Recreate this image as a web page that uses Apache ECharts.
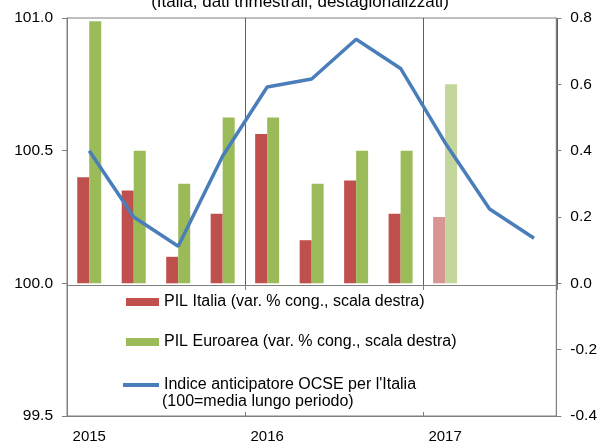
<!DOCTYPE html>
<html>
<head>
<meta charset="utf-8">
<script src="https://cdn.jsdelivr.net/npm/echarts@6/dist/echarts.min.js"></script>
<style>
  html, body { margin: 0; padding: 0; background: #fff; }
  #chart { width: 600px; height: 444px; }
</style>
</head>
<body>
<div id="chart"></div>
<script>
// trimestri 2015Q1 - 2017Q3
var quarters = ['2015', '', '', '', '2016', '', '', '', '2017', '', ''];
var pilItalia = [0.32, 0.28, 0.08, 0.21, 0.45, 0.13, 0.31, 0.21, 0.20, null, null];
var pilEuroarea = [0.79, 0.40, 0.30, 0.50, 0.50, 0.30, 0.40, 0.40, 0.60, null, null];
var indiceOcse = [100.50, 100.25, 100.14, 100.48, 100.74, 100.77, 100.92, 100.81, 100.53, 100.28, 100.17];
var leftTicks = [99.5, 101.0, 0.5];
var rightTicks = [-0.4, 0.8, 0.2];

var FONT = '"Liberation Sans", Arial, sans-serif';
var RED = '#C0504D', RED_LIGHT = '#D99594';
var GREEN = '#9BBB59', GREEN_LIGHT = '#C3D69B';
var BLUE = '#4A7EBB';

// l'ultimo dato osservato (2017Q1) in colore chiaro
function lastLight(arr, light) {
    return arr.map(function (v, i) {
        if (i === 8) {
            return { value: v, itemStyle: { color: light } };
        }
        return v;
    });
}

function yearTicks(index) {
    return index === 4 || index === 8;
}

var legendText = { fontFamily: FONT, fontSize: 16, lineHeight: 18, color: '#000' };

var chart = echarts.init(document.getElementById('chart'));
chart.setOption({
    animation: false,
    title: {
        text: '(Italia, dati trimestrali, destagionalizzati)',
        left: 'center',
        top: -11,
        textStyle: { fontFamily: FONT, fontSize: 17, fontWeight: 'normal', color: '#000' }
    },
    grid: [
        { left: 67, right: 43, top: 18, bottom: 27, show: true, borderColor: '#7f7f7f', borderWidth: 1 },
        { left: 67, right: 43, top: 18, bottom: 159 }
    ],
    legend: [{
        orient: 'vertical',
        left: 121,
        top: 288,
        itemWidth: 33,
        itemHeight: 8,
        itemGap: 22,
        itemStyle: { borderWidth: 0 },
        data: [
            { name: 'PIL Italia (var. % cong., scala destra)', icon: 'rect' },
            { name: 'PIL Euroarea (var. % cong., scala destra)', icon: 'rect' }
        ],
        textStyle: legendText
    }, {
        orient: 'vertical',
        left: 118,
        top: 371,
        itemWidth: 36,
        itemHeight: 8,
        data: [
            { name: "Indice anticipatore OCSE per l'Italia", icon: 'path://M0,0 L36,0 L36,4 L0,4 Z' }
        ],
        textStyle: legendText
    }],
    graphic: [{
        type: 'text',
        left: 162,
        top: 394,
        style: { text: '(100=media lungo periodo)', fontFamily: FONT, fontSize: 16, fill: '#000' }
    }],
    xAxis: [{
        type: 'category',
        gridIndex: 0,
        data: quarters,
        boundaryGap: true,
        axisLine: { onZero: false, lineStyle: { color: '#7f7f7f' } },
        axisTick: { show: true, inside: true, length: 4, interval: yearTicks, lineStyle: { color: '#7f7f7f' } },
        axisLabel: { interval: 0, margin: 13, fontFamily: FONT, fontSize: 15, color: '#000' }
    }, {
        type: 'category',
        gridIndex: 1,
        data: quarters,
        boundaryGap: true,
        axisLine: { onZero: false, lineStyle: { color: '#7f7f7f' } },
        axisTick: { show: true, length: 5, interval: yearTicks, lineStyle: { color: '#7f7f7f' } },
        axisLabel: { show: false },
        splitLine: { show: true, interval: yearTicks, lineStyle: { color: '#5f5f5f', width: 1 } }
    }],
    yAxis: [{
        type: 'value',
        gridIndex: 0,
        position: 'left',
        min: leftTicks[0],
        max: leftTicks[1],
        interval: leftTicks[2],
        axisLine: { show: true, lineStyle: { color: '#7f7f7f' } },
        axisTick: { show: true, length: 5, lineStyle: { color: '#7f7f7f' } },
        axisLabel: { margin: 14, fontFamily: FONT, fontSize: 15.5, color: '#000', formatter: function (v) { return v.toFixed(1); } },
        splitLine: { show: false }
    }, {
        type: 'value',
        gridIndex: 0,
        position: 'right',
        min: rightTicks[0],
        max: rightTicks[1],
        interval: rightTicks[2],
        axisLine: { show: true, lineStyle: { color: '#7f7f7f' } },
        axisTick: { show: true, length: 5, lineStyle: { color: '#7f7f7f' } },
        axisLabel: { margin: 14, fontFamily: FONT, fontSize: 15.5, color: '#000', formatter: function (v) { return v.toFixed(1); } },
        splitLine: { show: false }
    }, {
        type: 'value',
        gridIndex: 1,
        show: false,
        min: 0,
        max: 1
    }],
    series: [{
        name: 'PIL Italia (var. % cong., scala destra)',
        type: 'bar',
        xAxisIndex: 0,
        yAxisIndex: 1,
        barWidth: 12,
        barGap: '0%',
        itemStyle: { color: RED },
        data: lastLight(pilItalia, RED_LIGHT)
    }, {
        name: 'PIL Euroarea (var. % cong., scala destra)',
        type: 'bar',
        xAxisIndex: 0,
        yAxisIndex: 1,
        barWidth: 12,
        barGap: '0%',
        itemStyle: { color: GREEN },
        data: lastLight(pilEuroarea, GREEN_LIGHT)
    }, {
        name: "Indice anticipatore OCSE per l'Italia",
        type: 'line',
        xAxisIndex: 0,
        yAxisIndex: 0,
        symbol: 'none',
        lineStyle: { color: BLUE, width: 3.5 },
        itemStyle: { color: BLUE },
        data: indiceOcse
    }]
});
</script>
</body>
</html>
